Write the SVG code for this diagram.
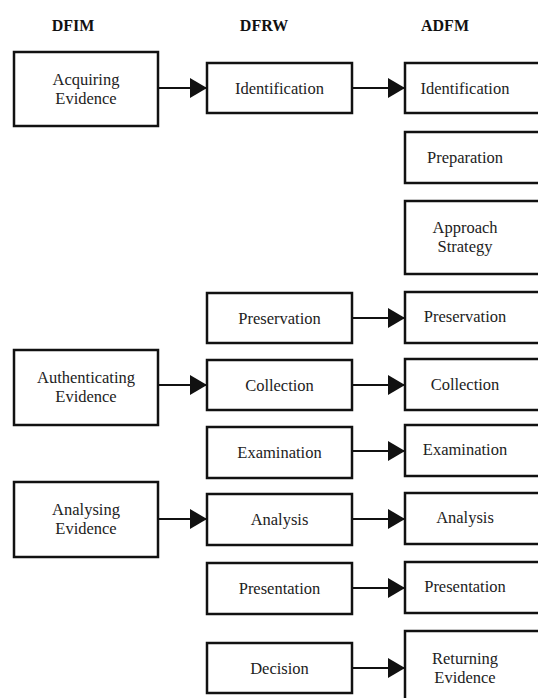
<svg xmlns="http://www.w3.org/2000/svg" width="538" height="698" viewBox="0 0 538 698">
<style>
.box{fill:#fff;stroke:#111;stroke-width:2.5}
.t{font-family:"Liberation Serif","Times New Roman",serif;font-size:16.5px;fill:#222;text-anchor:middle}
.h{font-family:"Liberation Serif","Times New Roman",serif;font-size:16px;font-weight:bold;fill:#111;text-anchor:middle}
.c{stroke:#111;stroke-width:2;fill:none;marker-end:url(#ah)}
</style>
<defs>
<marker id="ah" markerUnits="userSpaceOnUse" markerWidth="18" markerHeight="20" refX="17" refY="10" orient="auto">
<path d="M0,0 L17,10 L0,20 Z" fill="#111"/>
</marker>
</defs>
<g id="headers">
<text class="h" x="73" y="31">DFIM</text>
<text class="h" x="264" y="31">DFRW</text>
<text class="h" x="445" y="31">ADFM</text>
</g>
<g id="dfim-acquiring"><rect class="box" x="14" y="52" width="144" height="74"/><text class="t" x="86" y="85">Acquiring</text><text class="t" x="86" y="104">Evidence</text></g>
<g id="dfim-authenticating"><rect class="box" x="14" y="350" width="144" height="75"/><text class="t" x="86" y="383">Authenticating</text><text class="t" x="86" y="402">Evidence</text></g>
<g id="dfim-analysing"><rect class="box" x="14" y="482" width="144" height="75"/><text class="t" x="86" y="515">Analysing</text><text class="t" x="86" y="534">Evidence</text></g>

<g id="dfrw-identification"><rect class="box" x="207" y="63" width="145" height="50"/><text class="t" x="279.5" y="94">Identification</text></g>
<g id="dfrw-preservation"><rect class="box" x="207" y="293" width="145" height="50"/><text class="t" x="279.5" y="324">Preservation</text></g>
<g id="dfrw-collection"><rect class="box" x="207" y="360" width="145" height="50"/><text class="t" x="279.5" y="391">Collection</text></g>
<g id="dfrw-examination"><rect class="box" x="207" y="427" width="145" height="51"/><text class="t" x="279.5" y="458">Examination</text></g>
<g id="dfrw-analysis"><rect class="box" x="207" y="494" width="145" height="51"/><text class="t" x="279.5" y="525">Analysis</text></g>
<g id="dfrw-presentation"><rect class="box" x="207" y="563" width="145" height="51"/><text class="t" x="279.5" y="594">Presentation</text></g>
<g id="dfrw-decision"><rect class="box" x="207" y="643" width="145" height="50"/><text class="t" x="279.5" y="674">Decision</text></g>

<g id="adfm-identification"><rect class="box" x="405" y="63" width="145" height="50"/><text class="t" x="465" y="94">Identification</text></g>
<g id="adfm-preparation"><rect class="box" x="405" y="132" width="145" height="51"/><text class="t" x="465" y="163">Preparation</text></g>
<g id="adfm-approach"><rect class="box" x="405" y="201" width="145" height="73"/><text class="t" x="465" y="233">Approach</text><text class="t" x="465" y="252">Strategy</text></g>
<g id="adfm-preservation"><rect class="box" x="405" y="292" width="145" height="51"/><text class="t" x="465" y="322">Preservation</text></g>
<g id="adfm-collection"><rect class="box" x="405" y="359" width="145" height="51"/><text class="t" x="465" y="390">Collection</text></g>
<g id="adfm-examination"><rect class="box" x="405" y="425" width="145" height="51"/><text class="t" x="465" y="455">Examination</text></g>
<g id="adfm-analysis"><rect class="box" x="405" y="493" width="145" height="51"/><text class="t" x="465" y="523">Analysis</text></g>
<g id="adfm-presentation"><rect class="box" x="405" y="562" width="145" height="51"/><text class="t" x="465" y="592">Presentation</text></g>
<g id="adfm-returning"><rect class="box" x="405" y="631" width="145" height="80"/><text class="t" x="465" y="664">Returning</text><text class="t" x="465" y="683">Evidence</text></g>

<g id="connectors">
<line class="c" x1="158" y1="88" x2="207" y2="88"/>
<line class="c" x1="352" y1="88" x2="405" y2="88"/>
<line class="c" x1="352" y1="318" x2="405" y2="318"/>
<line class="c" x1="158" y1="385" x2="207" y2="385"/>
<line class="c" x1="352" y1="385" x2="405" y2="385"/>
<line class="c" x1="352" y1="451" x2="405" y2="451"/>
<line class="c" x1="158" y1="519" x2="207" y2="519"/>
<line class="c" x1="352" y1="519" x2="405" y2="519"/>
<line class="c" x1="352" y1="588" x2="405" y2="588"/>
<line class="c" x1="352" y1="668" x2="405" y2="668"/>
</g>
</svg>
